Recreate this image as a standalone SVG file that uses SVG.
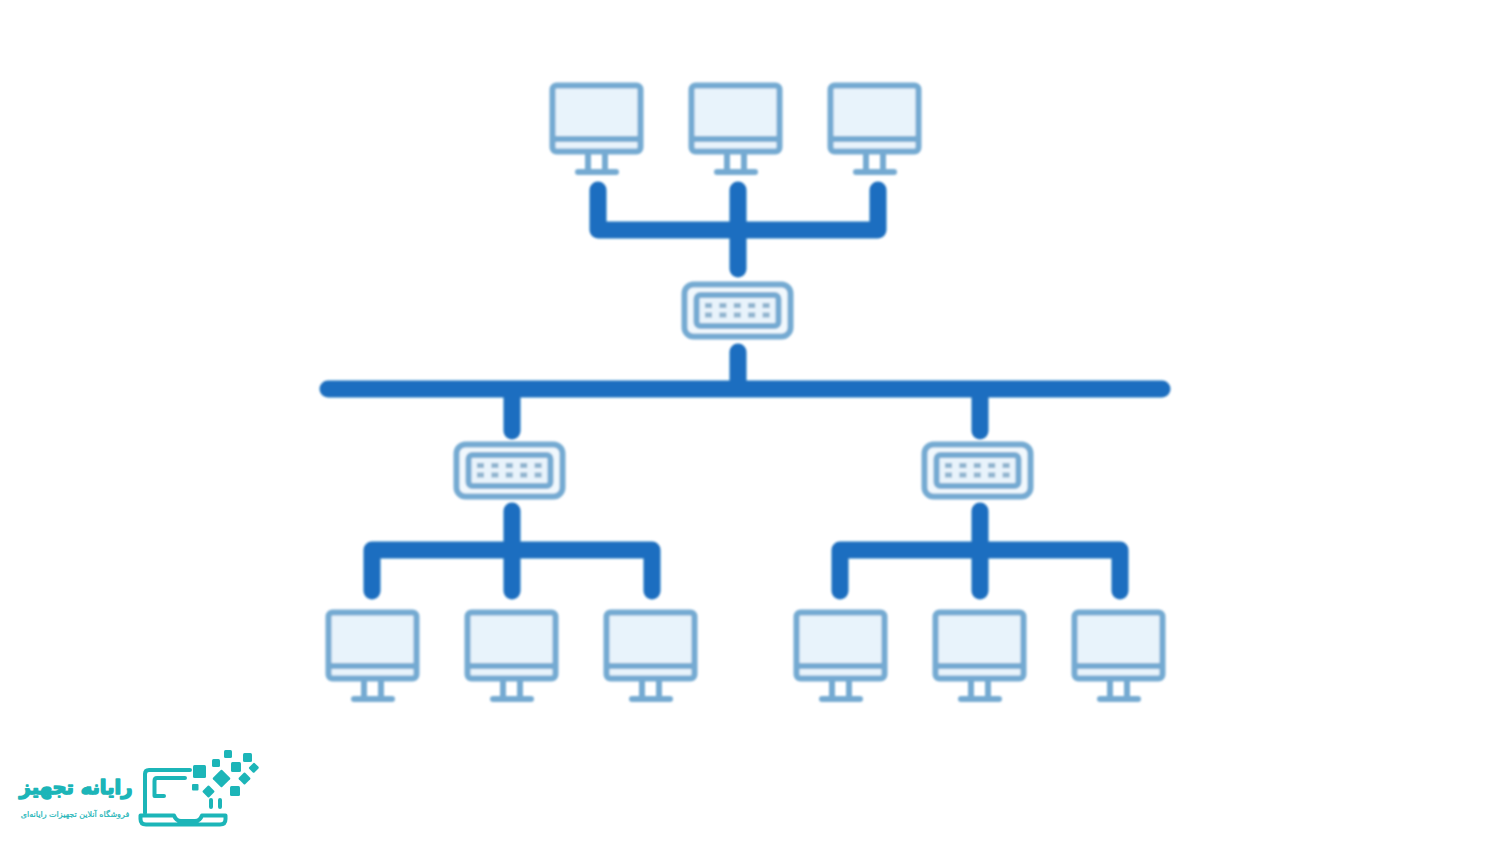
<svg xmlns="http://www.w3.org/2000/svg" width="1488" height="841" viewBox="0 0 1488 841">
<style>
.line{fill:none;stroke:#1b6ec0;stroke-width:17;stroke-linecap:round;stroke-linejoin:round}
.o{stroke:#74aad2;stroke-width:6;fill:none;stroke-linejoin:round}
.f{fill:#e8f3fb}
.t{fill:#1cb5b8}
.lo{fill:none;stroke:#1cb5b8;stroke-width:4;stroke-linecap:round;stroke-linejoin:round}
text{font-family:"DejaVu Sans","Noto Sans",sans-serif;fill:#1cb5b8;text-anchor:middle}
</style>
<defs>
<filter id="b" x="-5%" y="-5%" width="110%" height="110%"><feGaussianBlur stdDeviation="0.8"/></filter>
<g id="monitor">
<rect class="f" x="3" y="3" width="87" height="65" rx="3"/>
<rect class="o" x="2.500" y="2.500" width="88" height="66" rx="4"/>
<path class="o" d="M3 56H90"/>
<path class="o" d="M38 69V86M55 69V86"/>
<path d="M28 89H66" stroke="#74aad2" stroke-width="6" stroke-linecap="round"/>
</g>
<g id="switch">
<rect x="2.500" y="2.500" width="106" height="52" rx="9" fill="#f1f8fd" stroke="#74aad2" stroke-width="6"/>
<rect x="14.500" y="13" width="82" height="31" rx="4" fill="#e8f3fb" stroke="#74aad2" stroke-width="6"/>
<path d="M23 23.500H89M23 33H89" stroke="#8fb4cf" stroke-width="5" stroke-dasharray="7 7.400" fill="none"/>
</g>
</defs>
<rect width="1488" height="841" fill="#fff"/>
<g id="connectors" filter="url(#b)">
<path class="line" d="M598 190V230H878V190M738 190V269"/>
<path class="line" d="M328 389H1162M738 352V389M512 389V431M980 389V431"/>
<path class="line" d="M512 511V591M372 591V550H652V591"/>
<path class="line" d="M980 511V591M840 591V550H1120V591"/>
</g>
<g filter="url(#b)">
<g id="pc-top-1"><use href="#monitor" x="550" y="83"/></g>
<g id="pc-top-2"><use href="#monitor" x="689" y="83"/></g>
<g id="pc-top-3"><use href="#monitor" x="828" y="83"/></g>
<g id="switch-top"><use href="#switch" x="682" y="282"/></g>
<g id="switch-left"><use href="#switch" x="454" y="442"/></g>
<g id="switch-right"><use href="#switch" x="922" y="442"/></g>
<g id="pc-bottom-1"><use href="#monitor" x="326" y="610"/></g>
<g id="pc-bottom-2"><use href="#monitor" x="465" y="610"/></g>
<g id="pc-bottom-3"><use href="#monitor" x="604" y="610"/></g>
<g id="pc-bottom-4"><use href="#monitor" x="794" y="610"/></g>
<g id="pc-bottom-5"><use href="#monitor" x="933" y="610"/></g>
<g id="pc-bottom-6"><use href="#monitor" x="1072" y="610"/></g>
</g>
<g id="logo">
<path class="lo" d="M190 770H149Q145 770 145 774V813M185 778H157Q154.500 778 154.500 781V796H164"/>
<path class="lo" d="M140.500 815.500H174Q176 821 181 821H195Q200 821 202 815.500H225.500V819Q225.500 824.500 220 824.500H146Q140.500 824.500 140.500 819Z"/>
<path class="lo" d="M211 800V807M220 800V807"/>
<g class="t">
<rect x="193" y="765" width="13" height="13" rx="1.500"/>
<rect x="224" y="750" width="8" height="8" rx="1.500"/>
<rect x="212" y="759" width="8" height="8" rx="1.500"/>
<rect x="243" y="753" width="9" height="9" rx="1.500"/>
<rect x="231" y="762" width="10" height="10" rx="1.500"/>
<rect x="250" y="764" width="7.500" height="8" rx="1.500" transform="rotate(45 254 768)"/>
<rect x="215" y="772" width="13" height="13" rx="1" transform="rotate(45 221.500 778.500)"/>
<rect x="240" y="774" width="9" height="9" rx="1" transform="rotate(45 244.500 778.500)"/>
<rect x="204" y="787" width="9" height="9" rx="1" transform="rotate(45 208.500 791.500)"/>
<rect x="192" y="784" width="6.500" height="6.500" rx="1"/>
<rect x="230" y="786" width="10" height="10" rx="1.500"/>
</g>
<text x="76" y="794" font-size="19.500" font-weight="700" stroke="#1cb5b8" stroke-width="1.500" stroke-linejoin="round">رایانه تجهیز</text>
<text x="75" y="817" font-size="8" stroke="#1cb5b8" stroke-width="0.200">فروشگاه آنلاین تجهیزات رایانه‌ای</text>
</g>
</svg>
